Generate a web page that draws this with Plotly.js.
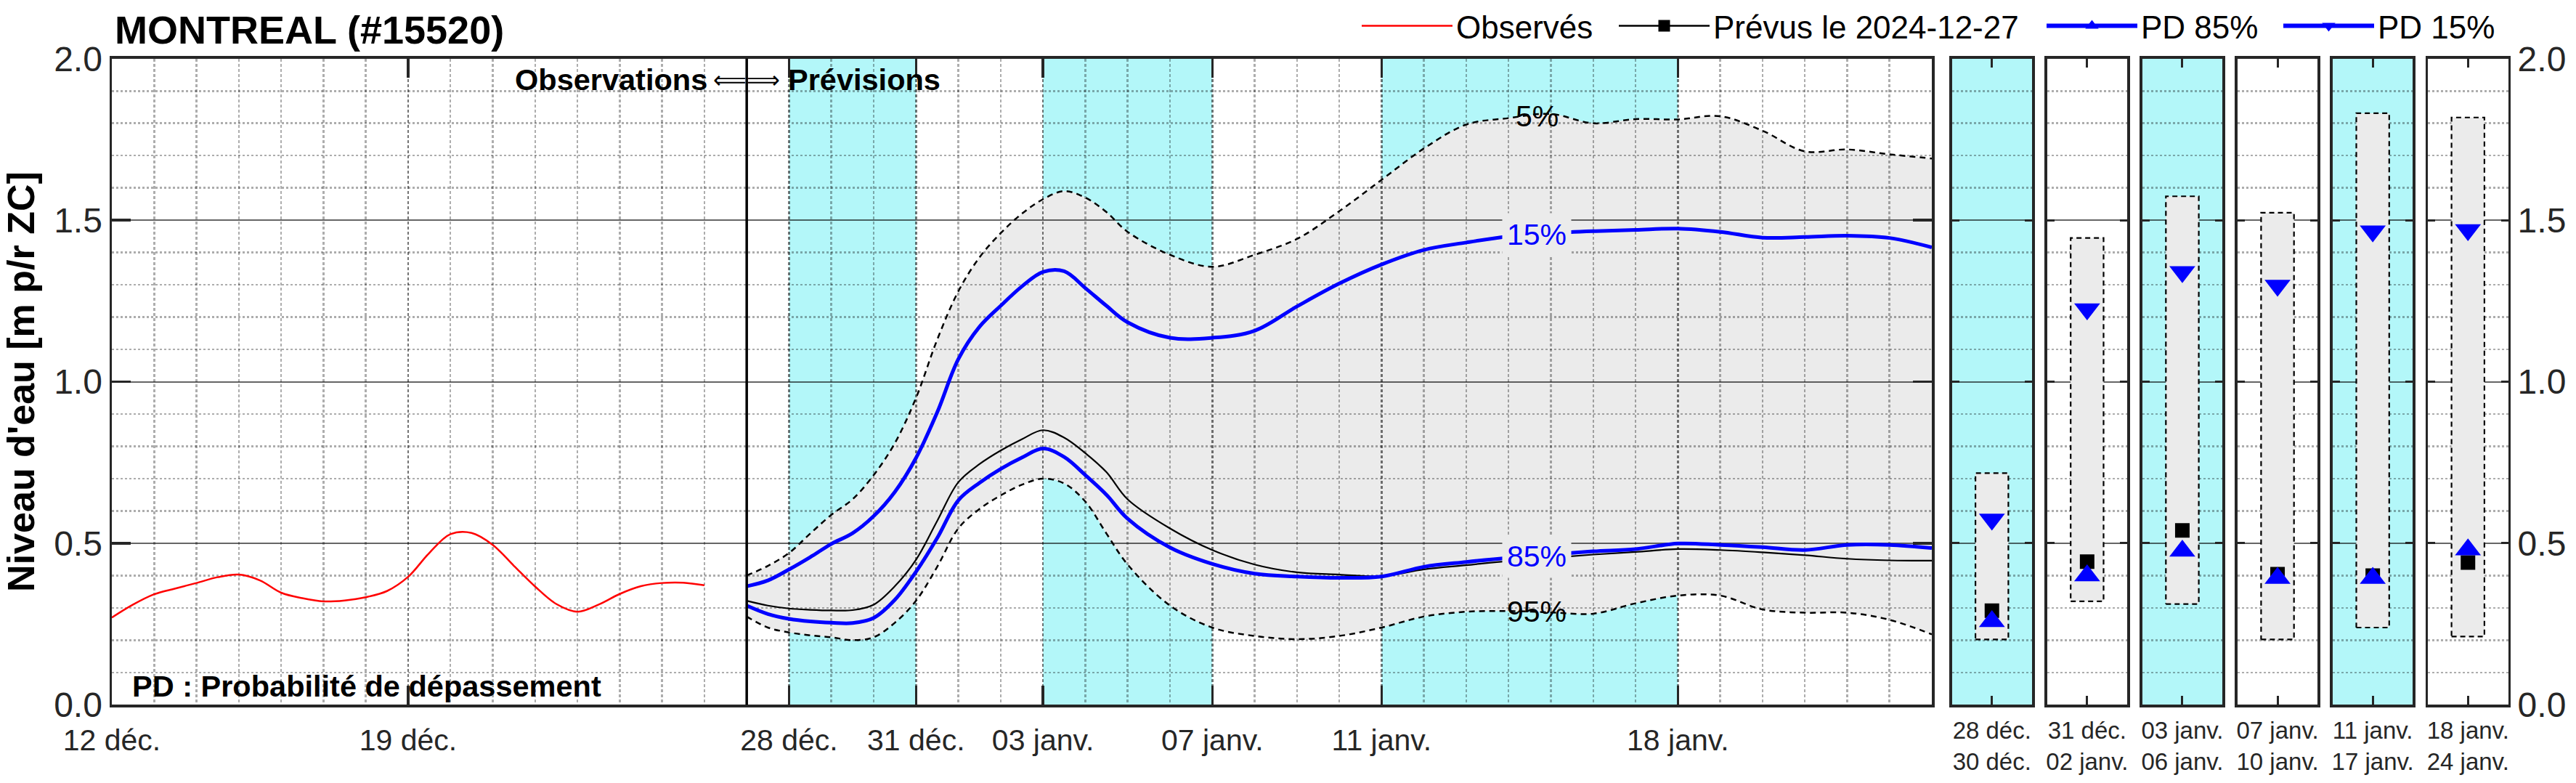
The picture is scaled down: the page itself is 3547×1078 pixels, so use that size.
<!DOCTYPE html>
<html>
<head>
<meta charset="utf-8">
<script src="https://cdn.plot.ly/plotly-3.0.1.min.js"></script>
<style>
html,body{margin:0;padding:0;background:#ffffff;}
#chart{width:3547px;height:1078px;}
</style>
</head>
<body>
<div id="chart"></div>
<script>
// ---------------- DATA ----------------
const obsTimes = ['2024-12-12 00:00','2024-12-12 12:00','2024-12-13 00:00','2024-12-13 12:00','2024-12-14 00:00','2024-12-14 12:00',
  '2024-12-15 00:00','2024-12-15 12:00','2024-12-16 00:00','2024-12-16 12:00','2024-12-17 00:00','2024-12-17 12:00',
  '2024-12-18 00:00','2024-12-18 12:00','2024-12-19 00:00','2024-12-19 12:00','2024-12-20 00:00','2024-12-20 12:00',
  '2024-12-21 00:00','2024-12-21 12:00','2024-12-22 00:00','2024-12-22 12:00','2024-12-23 00:00','2024-12-23 12:00',
  '2024-12-24 00:00','2024-12-24 12:00','2024-12-25 00:00','2024-12-25 12:00','2024-12-26 00:00'];
const obsValues = [0.27,0.31,0.342,0.36,0.377,0.395,0.403,0.385,0.347,0.33,0.320,0.323,0.333,0.352,0.396,0.47,0.528,0.532,0.495,0.43,0.366,0.312,0.288,0.31,0.343,0.367,0.377,0.378,0.370];

const fcTimes = ['2024-12-27 00:00','2024-12-27 12:00','2024-12-28 00:00','2024-12-28 12:00','2024-12-29 00:00','2024-12-29 12:00',
  '2024-12-30 00:00','2024-12-30 12:00','2024-12-31 00:00','2024-12-31 12:00','2025-01-01 00:00','2025-01-01 12:00',
  '2025-01-02 00:00','2025-01-02 12:00','2025-01-03 00:00','2025-01-03 12:00','2025-01-04 00:00','2025-01-04 12:00',
  '2025-01-05 00:00','2025-01-06 00:00','2025-01-07 00:00','2025-01-08 00:00','2025-01-09 00:00','2025-01-10 00:00',
  '2025-01-11 00:00','2025-01-12 00:00','2025-01-13 00:00','2025-01-14 00:00','2025-01-15 00:00','2025-01-16 00:00',
  '2025-01-17 00:00','2025-01-18 00:00','2025-01-19 00:00','2025-01-20 00:00','2025-01-21 00:00','2025-01-22 00:00',
  '2025-01-23 00:00','2025-01-24 00:00'];
const p05 = [0.40,0.43,0.47,0.53,0.588,0.636,0.711,0.81,0.95,1.13,1.28,1.385,1.46,1.52,1.565,1.59,1.57,1.525,1.464,
  1.393,1.356,1.393,1.442,1.528,1.625,1.722,1.796,1.816,1.829,1.800,1.813,1.812,1.822,1.777,1.713,1.719,1.704,1.691];
const p15 = [0.367,0.385,0.419,0.457,0.498,0.531,0.584,0.659,0.764,0.905,1.07,1.17,1.235,1.295,1.34,1.342,1.29,1.235,1.184,
  1.136,1.136,1.158,1.233,1.304,1.363,1.408,1.431,1.450,1.460,1.466,1.470,1.474,1.464,1.446,1.448,1.452,1.445,1.416];
const forecast = [0.322,0.307,0.298,0.294,0.292,0.293,0.31,0.367,0.449,0.569,0.689,0.745,0.787,0.822,0.850,0.827,0.779,0.72,0.636,
  0.546,0.479,0.434,0.410,0.403,0.398,0.419,0.432,0.445,0.455,0.465,0.473,0.482,0.479,0.472,0.463,0.452,0.447,0.446];
const p85 = [0.307,0.281,0.266,0.258,0.254,0.253,0.269,0.325,0.412,0.516,0.633,0.687,0.73,0.765,0.793,0.767,0.711,0.65,0.576,
  0.487,0.436,0.406,0.397,0.393,0.397,0.427,0.442,0.455,0.465,0.475,0.482,0.499,0.495,0.488,0.479,0.495,0.495,0.485];
const p95 = [0.273,0.239,0.224,0.215,0.209,0.200,0.209,0.254,0.322,0.427,0.546,0.606,0.648,0.681,0.700,0.685,0.629,0.53,0.434,
  0.307,0.239,0.213,0.203,0.213,0.239,0.273,0.288,0.290,0.286,0.282,0.314,0.338,0.338,0.295,0.285,0.285,0.263,0.218];

const forecastStart = '2024-12-27';
const xRange = ['2024-12-12','2025-01-24'];
const tickDates = ['2024-12-12','2024-12-19','2024-12-28','2024-12-31','2025-01-03','2025-01-07','2025-01-11','2025-01-18'];
const tickLabels = ['12 déc.','19 déc.','28 déc.','31 déc.','03 janv.','07 janv.','11 janv.','18 janv.'];
const bandStarts = ['2024-12-28','2025-01-03','2025-01-11'];
const bandEnds   = ['2024-12-31','2025-01-07','2025-01-18'];

const periodLabels = ['28 déc.<br>30 déc.','31 déc.<br>02 janv.','03 janv.<br>06 janv.','07 janv.<br>10 janv.','11 janv.<br>17 janv.','18 janv.<br>24 janv.'];
const periodShaded = [true,false,true,false,true,false];
const periodLow  = [0.202,0.320,0.312,0.202,0.239,0.211];
const periodHigh = [0.717,1.445,1.574,1.523,1.831,1.818];
const periodForecast = [0.291,0.443,0.540,0.404,0.400,0.440];
const periodPD85 = [0.258,0.400,0.476,0.392,0.392,0.480];
const periodPD15 = [0.574,1.225,1.340,1.298,1.466,1.470];

const labelTime = '2025-01-14 16:00';
const labelIdx = fcTimes.indexOf('2025-01-14 00:00');

// ---------------- STYLE / GEOMETRY ----------------
const W = 3547, H = 1078;
const px = v => v / W;
const py = v => 1 - v / H;
const FONT = 'Liberation Sans, Arial, Helvetica, sans-serif';
const AX = '#262626';
const CYAN = '#b3f7f9';
const FILL = '#ebebeb';
const GRID = 'rgba(0,0,0,0.32)';
const MAJ = 'rgba(0,0,0,0.6)';
const BLUE = '#0000ff';
const mainX = [px(154), px(2660)];
const yDom = [py(970), py(78)];

function panelDom(i){ const l = 2687.5 + 131.1*i; return [px(l), px(l+110.5)]; }

const traces = [];
// Layer A: band fill (under the grid of layer B)
traces.push({x: fcTimes, y: p95, xaxis:'x', yaxis:'y', mode:'lines', line:{width:0, shape:'spline'}, showlegend:false, hoverinfo:'skip'});
traces.push({x: fcTimes, y: p05, xaxis:'x', yaxis:'y', mode:'lines', fill:'tonexty', fillcolor:FILL, line:{width:0, shape:'spline'}, showlegend:false, hoverinfo:'skip'});

// Layer B: lines
traces.push({x: obsTimes, y: obsValues, xaxis:'x8', yaxis:'y8', mode:'lines', name:'Observés', legend:'legend',
  line:{color:'#ff0000', width:2.5, shape:'spline'}});
traces.push({x: fcTimes, y: p95, xaxis:'x8', yaxis:'y8', mode:'lines', showlegend:false, line:{color:'#000', width:2.5, dash:'8px,6px', shape:'spline'}});
traces.push({x: fcTimes, y: p05, xaxis:'x8', yaxis:'y8', mode:'lines', showlegend:false, line:{color:'#000', width:2.5, dash:'8px,6px', shape:'spline'}});
traces.push({x: fcTimes, y: forecast, xaxis:'x8', yaxis:'y8', mode:'lines', showlegend:false, line:{color:'#000', width:2.2, shape:'spline'}});
traces.push({x: fcTimes, y: p85, xaxis:'x8', yaxis:'y8', mode:'lines', showlegend:false, line:{color:BLUE, width:5, shape:'spline'}});
traces.push({x: fcTimes, y: p15, xaxis:'x8', yaxis:'y8', mode:'lines', showlegend:false, line:{color:BLUE, width:5, shape:'spline'}});

// Period panels
const boxHalf = 0.41;
for (let i = 0; i < periodLabels.length; i++) {
  const xa = 'x' + (i+2), ya = 'y' + (i+2);
  traces.push({x:[-boxHalf, boxHalf, boxHalf, -boxHalf, -boxHalf], y:[periodLow[i], periodLow[i], periodHigh[i], periodHigh[i], periodLow[i]],
    xaxis:xa, yaxis:ya, mode:'lines', fill:'toself', fillcolor:FILL, line:{color:'#000', width:2.2, dash:'7px,5px'}, showlegend:false, hoverinfo:'skip'});
  traces.push({x:[0], y:[periodForecast[i]], xaxis:xa, yaxis:ya, mode:'lines+markers', name:'Prévus le 2024-12-27', legend:'legend2',
    showlegend:i===0, line:{color:'#000', width:2.5}, marker:{symbol:'square', size:20, color:'#000'}});
  traces.push({x:[0], y:[periodPD85[i]], xaxis:xa, yaxis:ya, mode:'lines+markers', name:'PD 85%', legend:'legend3',
    showlegend:i===0, line:{color:BLUE, width:6}, marker:{symbol:'triangle-up', size:31, color:BLUE}});
  traces.push({x:[0], y:[periodPD15[i]], xaxis:xa, yaxis:ya, mode:'lines+markers', name:'PD 15%', legend:'legend4',
    showlegend:i===0, line:{color:BLUE, width:6}, marker:{symbol:'triangle-down', size:31, color:BLUE}});
}

const frame = {showline:true, linewidth:3.5, linecolor:AX, mirror:'ticks', ticks:'inside', tickcolor:AX, zeroline:false};
const yGrid = {showgrid:true, gridcolor:MAJ, gridwidth:2,
  minor:{dtick:0.1, tick0:0, showgrid:true, gridcolor:GRID, gridwidth:2.5, griddash:'dot', ticks:''}};
const legendBase = {y:py(33), xanchor:'left', yanchor:'middle', orientation:'h', itemwidth:125, bgcolor:'rgba(0,0,0,0)',
  font:{family:FONT, size:44, color:'#000'}};

const layout = {
  width: W, height: H,
  margin:{l:0, r:0, t:0, b:0},
  paper_bgcolor:'#ffffff', plot_bgcolor:'rgba(0,0,0,0)',
  font:{family:FONT, color:AX},
  title:{text:'<b>MONTREAL (#15520)</b>', x:px(158), xanchor:'left', xref:'paper', y:py(38), yref:'paper', yanchor:'middle',
    font:{family:FONT, size:54, color:'#000'}},
  xaxis:{domain:mainX, range:xRange, type:'date', visible:false, anchor:'y'},
  yaxis:{domain:yDom, range:[0,2], visible:false, anchor:'x'},
  xaxis8:Object.assign({}, frame, {domain:mainX, range:xRange, type:'date', anchor:'y8',
    tickmode:'array', tickvals:tickDates, ticktext:tickLabels, ticklen:26, tickwidth:3.5, ticklabelstandoff:10,
    tickfont:{family:FONT, size:41, color:AX},
    showgrid:true, gridcolor:GRID, gridwidth:2.5, griddash:'4px,3px',
    minor:{dtick:86400000, tick0:'2024-12-12', showgrid:true, gridcolor:GRID, gridwidth:2.5, griddash:'4px,3px', ticks:''}}),
  yaxis8:Object.assign({}, frame, yGrid, {domain:yDom, range:[0,2], anchor:'x8', tickmode:'linear', tick0:0, dtick:0.5, tickformat:'.1f',
    ticklen:26, tickwidth:3.5, tickfont:{family:FONT, size:48, color:AX},
    title:{text:"<b>Niveau d'eau [m p/r ZC]</b>", font:{family:FONT, size:52, color:'#000'}, standoff:33}}),
  legend: Object.assign({x:px(1870)}, legendBase),
  legend2:Object.assign({x:px(2224)}, legendBase),
  legend3:Object.assign({x:px(2813)}, legendBase),
  legend4:Object.assign({x:px(3139)}, legendBase),
  shapes:[], annotations:[]
};

for (let i = 0; i < periodLabels.length; i++) {
  const n = i + 2;
  layout['xaxis'+n] = Object.assign({}, frame, {domain:panelDom(i), range:[-1,1], anchor:'y'+n, tickmode:'array', tickvals:[0], ticktext:[periodLabels[i]],
    ticklen:12, tickwidth:3, ticklabelstandoff:4, showgrid:false, tickfont:{family:FONT, size:33, color:AX}});
  layout['yaxis'+n] = Object.assign({}, frame, yGrid, {domain:yDom, range:[0,2], anchor:'x'+n, tickmode:'linear', tick0:0, dtick:0.5, tickformat:'.1f',
    ticklen:10, tickwidth:3, showticklabels:i===periodLabels.length-1, side:i===periodLabels.length-1?'right':'left',
    tickfont:{family:FONT, size:48, color:AX}});
  if (periodShaded[i]) {
    layout.shapes.push({type:'rect', xref:'x'+n+' domain', yref:'y'+n+' domain', x0:0, x1:1, y0:0, y1:1, fillcolor:CYAN, line:{width:0}, layer:'below'});
  }
}
for (let i = 0; i < bandStarts.length; i++) {
  layout.shapes.push({type:'rect', xref:'x', yref:'y domain', x0:bandStarts[i], x1:bandEnds[i], y0:0, y1:1, fillcolor:CYAN, line:{width:0}, layer:'below'});
}
layout.shapes.push({type:'line', xref:'x8', yref:'y8 domain', x0:forecastStart, x1:forecastStart, y0:0, y1:1, line:{color:'#000', width:3.5}, layer:'above'});

const annY = py(107);
layout.annotations.push({xref:'x8', yref:'paper', x:forecastStart, y:annY, xanchor:'right', yanchor:'middle', xshift:-52, showarrow:false,
  text:'<b>Observations</b>', font:{family:FONT, size:41.5, color:'#000'}});
layout.annotations.push({xref:'x8', yref:'paper', x:forecastStart, y:annY, xanchor:'center', yanchor:'middle', showarrow:false,
  text:'⟸⟹', font:{family:'DejaVu Sans', size:32, color:'#000'}});
layout.annotations.push({xref:'x8', yref:'paper', x:forecastStart, y:annY, xanchor:'left', yanchor:'middle', xshift:55, showarrow:false,
  text:'<b>Prévisions</b>', font:{family:FONT, size:41.5, color:'#000'}});
layout.annotations.push({xref:'paper', yref:'paper', x:px(180), y:py(944), xanchor:'left', yanchor:'middle', showarrow:false,
  text:'<b>PD : Probabilité de dépassement</b>', font:{family:FONT, size:41.5, color:'#000'}});

const pctLabels = [
  {arr:p05, text:'5%', color:'#000', bg:'rgba(0,0,0,0)'},
  {arr:p15, text:'15%', color:BLUE, bg:FILL},
  {arr:p85, text:'85%', color:BLUE, bg:FILL},
  {arr:p95, text:'95%', color:'#000', bg:'rgba(0,0,0,0)'}
];
pctLabels.forEach(l => {
  layout.annotations.push({xref:'x8', yref:'y8', x:labelTime, y:(l.arr[labelIdx] + l.arr[labelIdx+1]) / 2, xanchor:'center', yanchor:'middle',
    showarrow:false, text:l.text, bgcolor:l.bg, borderpad:6, font:{family:FONT, size:41, color:l.color}});
});

Plotly.newPlot('chart', traces, layout, {staticPlot:true, displayModeBar:false});
</script>
</body>
</html>
